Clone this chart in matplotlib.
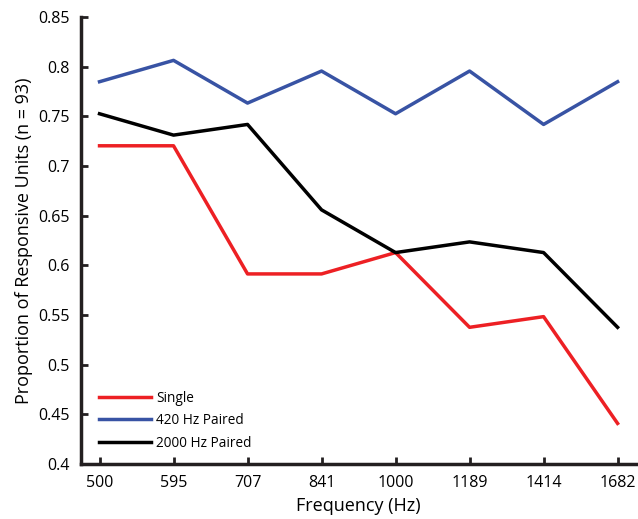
import matplotlib.pyplot as plt

plt.rcParams['font.family'] = ['Open Sans', 'DejaVu Sans']

freqs = ['500', '595', '707', '841', '1000', '1189', '1414', '1682']
n_units = 93
single = [67, 67, 55, 55, 57, 50, 51, 41]
paired_420 = [73, 75, 71, 74, 70, 74, 69, 73]
paired_2000 = [70, 68, 69, 61, 57, 58, 57, 50]

x = range(len(freqs))

fig = plt.figure(figsize=(6.38, 5.19), dpi=100)
ax = fig.add_axes([0.127, 0.106, 0.87, 0.861])

ax.plot(x, [v / n_units for v in single], color='#ed2024', lw=2.5, label='Single')
ax.plot(x, [v / n_units for v in paired_420], color='#3853a4', lw=2.5, label='420 Hz Paired')
ax.plot(x, [v / n_units for v in paired_2000], color='black', lw=2.5, label='2000 Hz Paired')

ax.set_xlim(-0.25, 7.25)
ax.set_ylim(0.4, 0.85)
ax.set_xticks(list(x))
ax.set_xticklabels(freqs)
ax.set_yticks([0.4, 0.45, 0.5, 0.55, 0.6, 0.65, 0.7, 0.75, 0.8, 0.85])
ax.set_yticklabels(['0.4', '0.45', '0.5', '0.55', '0.6', '0.65', '0.7', '0.75', '0.8', '0.85'])

for s in ['top', 'right']:
    ax.spines[s].set_visible(False)
for s in ['left', 'bottom']:
    ax.spines[s].set_linewidth(2.5)
    ax.spines[s].set_color('#231f20')
ax.tick_params(direction='in', length=5, width=2, labelsize=11.5, color='#231f20', pad=8)

ax.set_xlabel('Frequency (Hz)', fontsize=13)
ax.set_ylabel('Proportion of Responsive Units (n = 93)', fontsize=13)

ax.legend(loc='lower left', frameon=False, fontsize=9.8, handlelength=3.8,
          handletextpad=0.4, labelspacing=0.55, borderpad=0, borderaxespad=0,
          bbox_to_anchor=(0.032, 0.03))

fig.savefig('out.png', dpi=100)
